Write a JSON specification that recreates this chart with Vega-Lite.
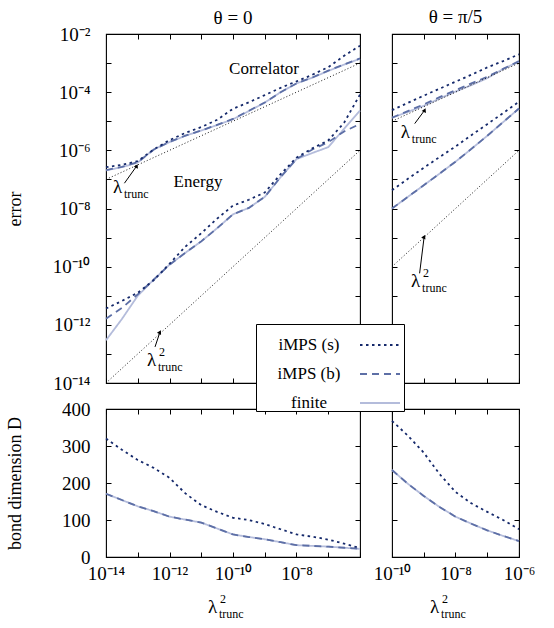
{
"$schema": "https://vega.github.io/schema/vega-lite/v6.json",
"padding": {"left": 5, "top": 6, "right": 5, "bottom": 5},
"config": {
 "font": "Liberation Serif",
 "view": {"stroke": "#000", "strokeWidth": 1.1},
 "axis": {"domain": false, "grid": false, "tickSize": -5, "tickColor": "#000", "tickWidth": 1, "labelFont": "Liberation Serif", "labelFontSize": 19, "labelColor": "#000", "labelPadding": 21, "labelOverlap": false, "labelFlush": false, "labelBound": false, "titleFont": "Liberation Serif", "titleFontSize": 18, "titleFontWeight": "normal", "titleColor": "#000"},
 "axisX": {"labelPadding": 12},
 "title": {"font": "Liberation Serif", "fontSize": 19, "fontWeight": "normal", "color": "#000", "frame": "group"},
 "legend": {"symbolType": "stroke", "symbolSize": 1600, "symbolStrokeWidth": 1.8, "labelFont": "Liberation Serif", "labelFontSize": 17, "labelColor": "#000", "rowPadding": -20, "padding": 0, "strokeColor": "#000", "fillColor": "#fff", "labelAlign": "center", "labelOffset": -92, "symbolOffset": 103}
},
"datasets": {
 "errL": [
  {"method":"finite","obs":"C","lam2":1e-14,"err":2.04e-7},{"method":"finite","obs":"C","lam2":3.16e-14,"err":2.63e-7},{"method":"finite","obs":"C","lam2":1e-13,"err":3.8e-7},{"method":"finite","obs":"C","lam2":3.16e-13,"err":1.07e-6},{"method":"finite","obs":"C","lam2":1e-12,"err":1.91e-6},{"method":"finite","obs":"C","lam2":3.16e-12,"err":3.16e-6},{"method":"finite","obs":"C","lam2":1e-11,"err":4.79e-6},{"method":"finite","obs":"C","lam2":3.16e-11,"err":7.41e-6},{"method":"finite","obs":"C","lam2":1e-10,"err":1.17e-5},{"method":"finite","obs":"C","lam2":3.16e-10,"err":2.24e-5},{"method":"finite","obs":"C","lam2":1e-9,"err":4.37e-5},{"method":"finite","obs":"C","lam2":3.16e-9,"err":1.0e-4},{"method":"finite","obs":"C","lam2":1e-8,"err":2.0e-4},{"method":"finite","obs":"C","lam2":3.16e-8,"err":3.16e-4},{"method":"finite","obs":"C","lam2":1e-7,"err":5.37e-4},{"method":"finite","obs":"C","lam2":3.16e-7,"err":8.91e-4},{"method":"finite","obs":"C","lam2":1e-6,"err":1.41e-3},
  {"method":"finite","obs":"E","lam2":1e-14,"err":2.95e-13},{"method":"finite","obs":"E","lam2":3.16e-14,"err":1.58e-12},{"method":"finite","obs":"E","lam2":1e-13,"err":1.0e-11},{"method":"finite","obs":"E","lam2":3.16e-13,"err":3.55e-11},{"method":"finite","obs":"E","lam2":1e-12,"err":1.17e-10},{"method":"finite","obs":"E","lam2":3.16e-12,"err":3.0e-10},{"method":"finite","obs":"E","lam2":1e-11,"err":7.4e-10},{"method":"finite","obs":"E","lam2":3.16e-11,"err":2.1e-9},{"method":"finite","obs":"E","lam2":1e-10,"err":6.3e-9},{"method":"finite","obs":"E","lam2":3.16e-10,"err":1.05e-8},{"method":"finite","obs":"E","lam2":1e-9,"err":2.51e-8},{"method":"finite","obs":"E","lam2":3.16e-9,"err":1.2e-7},{"method":"finite","obs":"E","lam2":1e-8,"err":5.0e-7},{"method":"finite","obs":"E","lam2":3.16e-8,"err":8.1e-7},{"method":"finite","obs":"E","lam2":1e-7,"err":1.29e-6},{"method":"finite","obs":"E","lam2":3.16e-7,"err":5.5e-6},{"method":"finite","obs":"E","lam2":1e-6,"err":2.34e-5},
  {"method":"iMPS (b)","obs":"C","lam2":1e-14,"err":2.1e-7},{"method":"iMPS (b)","obs":"C","lam2":3.16e-14,"err":2.7e-7},{"method":"iMPS (b)","obs":"C","lam2":1e-13,"err":3.9e-7},{"method":"iMPS (b)","obs":"C","lam2":3.16e-13,"err":1.05e-6},{"method":"iMPS (b)","obs":"C","lam2":1e-12,"err":1.95e-6},{"method":"iMPS (b)","obs":"C","lam2":3.16e-12,"err":3.2e-6},{"method":"iMPS (b)","obs":"C","lam2":1e-11,"err":4.8e-6},{"method":"iMPS (b)","obs":"C","lam2":3.16e-11,"err":7.5e-6},{"method":"iMPS (b)","obs":"C","lam2":1e-10,"err":1.2e-5},{"method":"iMPS (b)","obs":"C","lam2":3.16e-10,"err":2.3e-5},{"method":"iMPS (b)","obs":"C","lam2":1e-9,"err":4.4e-5},{"method":"iMPS (b)","obs":"C","lam2":3.16e-9,"err":1.0e-4},{"method":"iMPS (b)","obs":"C","lam2":1e-8,"err":2.0e-4},{"method":"iMPS (b)","obs":"C","lam2":3.16e-8,"err":3.2e-4},{"method":"iMPS (b)","obs":"C","lam2":1e-7,"err":5.5e-4},{"method":"iMPS (b)","obs":"C","lam2":3.16e-7,"err":9.0e-4},{"method":"iMPS (b)","obs":"C","lam2":1e-6,"err":1.45e-3},
  {"method":"iMPS (b)","obs":"E","lam2":1e-14,"err":1.62e-12},{"method":"iMPS (b)","obs":"E","lam2":3.16e-14,"err":3.8e-12},{"method":"iMPS (b)","obs":"E","lam2":1e-13,"err":1.12e-11},{"method":"iMPS (b)","obs":"E","lam2":3.16e-13,"err":3.55e-11},{"method":"iMPS (b)","obs":"E","lam2":1e-12,"err":1.17e-10},{"method":"iMPS (b)","obs":"E","lam2":3.16e-12,"err":3.0e-10},{"method":"iMPS (b)","obs":"E","lam2":1e-11,"err":7.4e-10},{"method":"iMPS (b)","obs":"E","lam2":3.16e-11,"err":2.1e-9},{"method":"iMPS (b)","obs":"E","lam2":1e-10,"err":6.3e-9},{"method":"iMPS (b)","obs":"E","lam2":3.16e-10,"err":1.05e-8},{"method":"iMPS (b)","obs":"E","lam2":1e-9,"err":2.51e-8},{"method":"iMPS (b)","obs":"E","lam2":3.16e-9,"err":1.2e-7},{"method":"iMPS (b)","obs":"E","lam2":1e-8,"err":5.0e-7},{"method":"iMPS (b)","obs":"E","lam2":3.16e-8,"err":1.07e-6},{"method":"iMPS (b)","obs":"E","lam2":1e-7,"err":1.9e-6},{"method":"iMPS (b)","obs":"E","lam2":3.16e-7,"err":4.47e-6},{"method":"iMPS (b)","obs":"E","lam2":1e-6,"err":8.1e-6},
  {"method":"iMPS (s)","obs":"C","lam2":1e-14,"err":2.63e-7},{"method":"iMPS (s)","obs":"C","lam2":3.16e-14,"err":3.16e-7},{"method":"iMPS (s)","obs":"C","lam2":1e-13,"err":4.27e-7},{"method":"iMPS (s)","obs":"C","lam2":3.16e-13,"err":1.07e-6},{"method":"iMPS (s)","obs":"C","lam2":1e-12,"err":2.24e-6},{"method":"iMPS (s)","obs":"C","lam2":3.16e-12,"err":3.98e-6},{"method":"iMPS (s)","obs":"C","lam2":1e-11,"err":6.31e-6},{"method":"iMPS (s)","obs":"C","lam2":3.16e-11,"err":1.12e-5},{"method":"iMPS (s)","obs":"C","lam2":1e-10,"err":2.69e-5},{"method":"iMPS (s)","obs":"C","lam2":3.16e-10,"err":4.47e-5},{"method":"iMPS (s)","obs":"C","lam2":1e-9,"err":7.94e-5},{"method":"iMPS (s)","obs":"C","lam2":3.16e-9,"err":1.41e-4},{"method":"iMPS (s)","obs":"C","lam2":1e-8,"err":2.34e-4},{"method":"iMPS (s)","obs":"C","lam2":3.16e-8,"err":3.98e-4},{"method":"iMPS (s)","obs":"C","lam2":1e-7,"err":7.24e-4},{"method":"iMPS (s)","obs":"C","lam2":3.16e-7,"err":1.78e-3},{"method":"iMPS (s)","obs":"C","lam2":1e-6,"err":3.98e-3},
  {"method":"iMPS (s)","obs":"E","lam2":1e-14,"err":3.63e-12},{"method":"iMPS (s)","obs":"E","lam2":3.16e-14,"err":6.6e-12},{"method":"iMPS (s)","obs":"E","lam2":1e-13,"err":1.26e-11},{"method":"iMPS (s)","obs":"E","lam2":3.16e-13,"err":3.39e-11},{"method":"iMPS (s)","obs":"E","lam2":1e-12,"err":1.26e-10},{"method":"iMPS (s)","obs":"E","lam2":3.16e-12,"err":4.9e-10},{"method":"iMPS (s)","obs":"E","lam2":1e-11,"err":1.41e-9},{"method":"iMPS (s)","obs":"E","lam2":3.16e-11,"err":4.47e-9},{"method":"iMPS (s)","obs":"E","lam2":1e-10,"err":1.26e-8},{"method":"iMPS (s)","obs":"E","lam2":3.16e-10,"err":2.0e-8},{"method":"iMPS (s)","obs":"E","lam2":1e-9,"err":3.55e-8},{"method":"iMPS (s)","obs":"E","lam2":3.16e-9,"err":1.51e-7},{"method":"iMPS (s)","obs":"E","lam2":1e-8,"err":5.62e-7},{"method":"iMPS (s)","obs":"E","lam2":3.16e-8,"err":1.17e-6},{"method":"iMPS (s)","obs":"E","lam2":1e-7,"err":2.19e-6},{"method":"iMPS (s)","obs":"E","lam2":3.16e-7,"err":8.9e-6},{"method":"iMPS (s)","obs":"E","lam2":1e-6,"err":8.3e-5}
 ],
 "errR": [
  {"method":"finite","obs":"C","lam2":1e-10,"err":1.32e-5},{"method":"finite","obs":"C","lam2":3.16e-10,"err":2.09e-5},{"method":"finite","obs":"C","lam2":1e-9,"err":3.39e-5},{"method":"finite","obs":"C","lam2":3.16e-9,"err":6.03e-5},{"method":"finite","obs":"C","lam2":1e-8,"err":1.05e-4},{"method":"finite","obs":"C","lam2":3.16e-8,"err":1.74e-4},{"method":"finite","obs":"C","lam2":1e-7,"err":3.02e-4},{"method":"finite","obs":"C","lam2":3.16e-7,"err":6.31e-4},{"method":"finite","obs":"C","lam2":1e-6,"err":1.12e-3},
  {"method":"finite","obs":"E","lam2":1e-10,"err":1.0e-8},{"method":"finite","obs":"E","lam2":3.16e-10,"err":2.51e-8},{"method":"finite","obs":"E","lam2":1e-9,"err":6.31e-8},{"method":"finite","obs":"E","lam2":3.16e-9,"err":1.58e-7},{"method":"finite","obs":"E","lam2":1e-8,"err":4.07e-7},{"method":"finite","obs":"E","lam2":3.16e-8,"err":1.12e-6},{"method":"finite","obs":"E","lam2":1e-7,"err":3.16e-6},{"method":"finite","obs":"E","lam2":3.16e-7,"err":9.33e-6},{"method":"finite","obs":"E","lam2":1e-6,"err":2.75e-5},
  {"method":"iMPS (b)","obs":"C","lam2":1e-10,"err":1.32e-5},{"method":"iMPS (b)","obs":"C","lam2":3.16e-10,"err":2.24e-5},{"method":"iMPS (b)","obs":"C","lam2":1e-9,"err":3.8e-5},{"method":"iMPS (b)","obs":"C","lam2":3.16e-9,"err":6.76e-5},{"method":"iMPS (b)","obs":"C","lam2":1e-8,"err":1.17e-4},{"method":"iMPS (b)","obs":"C","lam2":3.16e-8,"err":2.0e-4},{"method":"iMPS (b)","obs":"C","lam2":1e-7,"err":3.39e-4},{"method":"iMPS (b)","obs":"C","lam2":3.16e-7,"err":6.31e-4},{"method":"iMPS (b)","obs":"C","lam2":1e-6,"err":1.17e-3},
  {"method":"iMPS (b)","obs":"E","lam2":1e-10,"err":1.0e-8},{"method":"iMPS (b)","obs":"E","lam2":3.16e-10,"err":2.51e-8},{"method":"iMPS (b)","obs":"E","lam2":1e-9,"err":6.31e-8},{"method":"iMPS (b)","obs":"E","lam2":3.16e-9,"err":1.58e-7},{"method":"iMPS (b)","obs":"E","lam2":1e-8,"err":4.07e-7},{"method":"iMPS (b)","obs":"E","lam2":3.16e-8,"err":1.12e-6},{"method":"iMPS (b)","obs":"E","lam2":1e-7,"err":3.16e-6},{"method":"iMPS (b)","obs":"E","lam2":3.16e-7,"err":9.33e-6},{"method":"iMPS (b)","obs":"E","lam2":1e-6,"err":2.75e-5},
  {"method":"iMPS (s)","obs":"C","lam2":1e-10,"err":2.4e-5},{"method":"iMPS (s)","obs":"C","lam2":3.16e-10,"err":4.27e-5},{"method":"iMPS (s)","obs":"C","lam2":1e-9,"err":7.59e-5},{"method":"iMPS (s)","obs":"C","lam2":3.16e-9,"err":1.32e-4},{"method":"iMPS (s)","obs":"C","lam2":1e-8,"err":2.29e-4},{"method":"iMPS (s)","obs":"C","lam2":3.16e-8,"err":3.98e-4},{"method":"iMPS (s)","obs":"C","lam2":1e-7,"err":7.08e-4},{"method":"iMPS (s)","obs":"C","lam2":3.16e-7,"err":1.17e-3},{"method":"iMPS (s)","obs":"C","lam2":1e-6,"err":2.0e-3},
  {"method":"iMPS (s)","obs":"E","lam2":1e-10,"err":4.27e-8},{"method":"iMPS (s)","obs":"E","lam2":3.16e-10,"err":1.05e-7},{"method":"iMPS (s)","obs":"E","lam2":1e-9,"err":2.51e-7},{"method":"iMPS (s)","obs":"E","lam2":3.16e-9,"err":5.89e-7},{"method":"iMPS (s)","obs":"E","lam2":1e-8,"err":1.35e-6},{"method":"iMPS (s)","obs":"E","lam2":3.16e-8,"err":3.31e-6},{"method":"iMPS (s)","obs":"E","lam2":1e-7,"err":7.94e-6},{"method":"iMPS (s)","obs":"E","lam2":3.16e-7,"err":1.91e-5},{"method":"iMPS (s)","obs":"E","lam2":1e-6,"err":4.68e-5}
 ],
 "dimL": [
  {"method":"finite","lam2":1e-14,"D":171},{"method":"finite","lam2":3.16e-14,"D":154},{"method":"finite","lam2":1e-13,"D":137},{"method":"finite","lam2":3.16e-13,"D":124},{"method":"finite","lam2":1e-12,"D":109},{"method":"finite","lam2":3.16e-12,"D":101},{"method":"finite","lam2":1e-11,"D":93},{"method":"finite","lam2":3.16e-11,"D":77},{"method":"finite","lam2":1e-10,"D":61},{"method":"finite","lam2":3.16e-10,"D":54},{"method":"finite","lam2":1e-9,"D":48},{"method":"finite","lam2":3.16e-9,"D":40},{"method":"finite","lam2":1e-8,"D":32},{"method":"finite","lam2":3.16e-8,"D":30},{"method":"finite","lam2":1e-7,"D":28},{"method":"finite","lam2":3.16e-7,"D":25},{"method":"finite","lam2":1e-6,"D":22},
  {"method":"iMPS (b)","lam2":1e-14,"D":171},{"method":"iMPS (b)","lam2":3.16e-14,"D":154},{"method":"iMPS (b)","lam2":1e-13,"D":137},{"method":"iMPS (b)","lam2":3.16e-13,"D":124},{"method":"iMPS (b)","lam2":1e-12,"D":109},{"method":"iMPS (b)","lam2":3.16e-12,"D":101},{"method":"iMPS (b)","lam2":1e-11,"D":93},{"method":"iMPS (b)","lam2":3.16e-11,"D":77},{"method":"iMPS (b)","lam2":1e-10,"D":61},{"method":"iMPS (b)","lam2":3.16e-10,"D":54},{"method":"iMPS (b)","lam2":1e-9,"D":48},{"method":"iMPS (b)","lam2":3.16e-9,"D":40},{"method":"iMPS (b)","lam2":1e-8,"D":32},{"method":"iMPS (b)","lam2":3.16e-8,"D":30},{"method":"iMPS (b)","lam2":1e-7,"D":28},{"method":"iMPS (b)","lam2":3.16e-7,"D":25},{"method":"iMPS (b)","lam2":1e-6,"D":22},
  {"method":"iMPS (s)","lam2":1e-14,"D":320},{"method":"iMPS (s)","lam2":3.16e-14,"D":290},{"method":"iMPS (s)","lam2":1e-13,"D":262},{"method":"iMPS (s)","lam2":3.16e-13,"D":241},{"method":"iMPS (s)","lam2":1e-12,"D":214},{"method":"iMPS (s)","lam2":3.16e-12,"D":172},{"method":"iMPS (s)","lam2":1e-11,"D":140},{"method":"iMPS (s)","lam2":3.16e-11,"D":122},{"method":"iMPS (s)","lam2":1e-10,"D":106},{"method":"iMPS (s)","lam2":3.16e-10,"D":100},{"method":"iMPS (s)","lam2":1e-9,"D":89},{"method":"iMPS (s)","lam2":3.16e-9,"D":75},{"method":"iMPS (s)","lam2":1e-8,"D":61},{"method":"iMPS (s)","lam2":3.16e-8,"D":55},{"method":"iMPS (s)","lam2":1e-7,"D":47},{"method":"iMPS (s)","lam2":3.16e-7,"D":36},{"method":"iMPS (s)","lam2":1e-6,"D":24}
 ],
 "dimR": [
  {"method":"finite","lam2":1e-10,"D":235},{"method":"finite","lam2":3.16e-10,"D":198},{"method":"finite","lam2":1e-9,"D":165},{"method":"finite","lam2":3.16e-9,"D":135},{"method":"finite","lam2":1e-8,"D":109},{"method":"finite","lam2":3.16e-8,"D":90},{"method":"finite","lam2":1e-7,"D":72},{"method":"finite","lam2":3.16e-7,"D":57},{"method":"finite","lam2":1e-6,"D":43},
  {"method":"iMPS (b)","lam2":1e-10,"D":235},{"method":"iMPS (b)","lam2":3.16e-10,"D":198},{"method":"iMPS (b)","lam2":1e-9,"D":165},{"method":"iMPS (b)","lam2":3.16e-9,"D":135},{"method":"iMPS (b)","lam2":1e-8,"D":109},{"method":"iMPS (b)","lam2":3.16e-8,"D":90},{"method":"iMPS (b)","lam2":1e-7,"D":72},{"method":"iMPS (b)","lam2":3.16e-7,"D":57},{"method":"iMPS (b)","lam2":1e-6,"D":43},
  {"method":"iMPS (s)","lam2":1e-10,"D":368},{"method":"iMPS (s)","lam2":3.16e-10,"D":328},{"method":"iMPS (s)","lam2":1e-9,"D":282},{"method":"iMPS (s)","lam2":3.16e-9,"D":224},{"method":"iMPS (s)","lam2":1e-8,"D":176},{"method":"iMPS (s)","lam2":3.16e-8,"D":145},{"method":"iMPS (s)","lam2":1e-7,"D":122},{"method":"iMPS (s)","lam2":3.16e-7,"D":100},{"method":"iMPS (s)","lam2":1e-6,"D":75}
 ],
 "refL": [{"kind":"lam","lam2":1e-14,"err":1e-7},{"kind":"lam","lam2":1e-6,"err":1e-3},{"kind":"lam2","lam2":1e-14,"err":1e-14},{"kind":"lam2","lam2":1e-6,"err":1e-6}],
 "refR": [{"kind":"lam","lam2":1e-10,"err":1e-5},{"kind":"lam","lam2":1e-6,"err":1e-3},{"kind":"lam2","lam2":1e-10,"err":1e-10},{"kind":"lam2","lam2":1e-6,"err":1e-6}],
 "arrTL": [{"lam2":3.8e-14,"err":7.4e-8,"lam2b":9.3e-14,"errb":2.9e-7},{"lam2":3.5e-13,"err":1.74e-13,"lam2b":5.0e-13,"errb":5.6e-13}],
 "arrTR": [{"lam2":5.2e-10,"err":8.3e-6,"lam2b":1.07e-9,"errb":2.4e-5},{"lam2":7.4e-10,"err":5.9e-11,"lam2b":1.03e-9,"errb":1.07e-9}],
 "annTL": [
  {"part":"plain","t":"Correlator","lam2":9.5e-10,"err":6.5e-4},
  {"part":"plain","t":"Energy","lam2":7.9e-12,"err":7.9e-8},
  {"part":"main","t":"λ","lam2":1.66e-14,"err":3.5e-8},
  {"part":"sub","t":"trunc","lam2":1.66e-14,"err":3.5e-8},
  {"part":"main","t":"λ","lam2":1.95e-13,"err":3.7e-14},
  {"part":"sup","t":"2","lam2":1.95e-13,"err":3.7e-14},
  {"part":"sub","t":"trunc","lam2":1.95e-13,"err":3.7e-14}
 ],
 "annTR": [
  {"part":"main","t":"λ","lam2":1.9e-10,"err":2.75e-6},
  {"part":"sub","t":"trunc","lam2":1.9e-10,"err":2.75e-6},
  {"part":"main","t":"λ","lam2":4.0e-10,"err":1.95e-11},
  {"part":"sup","t":"2","lam2":4.0e-10,"err":1.95e-11},
  {"part":"sub","t":"trunc","lam2":4.0e-10,"err":1.95e-11}
 ],
 "annBL": [
  {"part":"main","t":"λ","lam2":1.62e-11,"D":-151},
  {"part":"sup","t":"2","lam2":1.62e-11,"D":-151},
  {"part":"sub","t":"trunc","lam2":1.62e-11,"D":-151}
 ],
 "annBR": [
  {"part":"main","t":"λ","lam2":1.58e-9,"D":-151},
  {"part":"sup","t":"2","lam2":1.58e-9,"D":-151},
  {"part":"sub","t":"trunc","lam2":1.58e-9,"D":-151}
 ]
},
"spacing": {"row": 26, "column": 32},
"bounds": "flush",
"columns": 2,
"concat": [
  {"width": 254, "height": 349, "title": {"text": "θ = 0", "offset": -3},
   "layer": [
    {"data": {"name": "errL"}, "mark": {"type": "line", "strokeWidth": 1.8},
     "encoding": {
      "x": {"field": "lam2", "type": "quantitative", "scale": {"type": "log", "domain": [1e-14, 1e-6], "nice": false}, "axis": {"orient": "bottom", "values": [1e-14,1e-13,1e-12,1e-11,1e-10,1e-9,1e-8,1e-7,1e-6], "labels": false, "title": null}},
      "y": {"field": "err", "type": "quantitative", "scale": {"type": "log", "domain": [1e-14, 1e-2], "nice": false}, "axis": {"orient": "left", "values": [1e-14,1e-13,1e-12,1e-11,1e-10,1e-9,1e-8,1e-7,1e-6,1e-5,1e-4,1e-3,1e-2], "title": "error", "titlePadding": 28, "labelExpr": "round(log(datum.value)/LN10)==-14?'10⁻¹⁴':round(log(datum.value)/LN10)==-12?'10⁻¹²':round(log(datum.value)/LN10)==-10?'10⁻¹⁰':round(log(datum.value)/LN10)==-8?'10⁻⁸':round(log(datum.value)/LN10)==-6?'10⁻⁶':round(log(datum.value)/LN10)==-4?'10⁻⁴':round(log(datum.value)/LN10)==-2?'10⁻²':''"}},
      "color": {"field": "method", "type": "nominal", "scale": {"domain": ["iMPS (s)", "iMPS (b)", "finite"], "range": ["#15296b", "#5d6fa6", "#b4bcdb"]}, "legend": {"title": null, "orient": "none", "legendX": 150, "legendY": 290, "zindex": 1}},
      "strokeDash": {"field": "method", "type": "nominal", "scale": {"domain": ["iMPS (s)", "iMPS (b)", "finite"], "range": [[2.5, 3.5], [7, 5], [1, 0]]}, "legend": {"title": null, "orient": "none", "legendX": 150, "legendY": 290, "zindex": 1}},
      "detail": {"field": "obs"}
     }},
    {"data": {"name": "refL"}, "mark": {"type": "line", "color": "#000", "strokeWidth": 0.9, "strokeDash": [1, 2.2]},
     "encoding": {
      "x": {"field": "lam2", "type": "quantitative", "scale": {"type": "log", "domain": [1e-14, 1e-6], "nice": false}, "axis": {"orient": "top", "values": [1e-14,1e-13,1e-12,1e-11,1e-10,1e-9,1e-8,1e-7,1e-6], "labels": false, "title": null}},
      "y": {"field": "err", "type": "quantitative", "scale": {"type": "log", "domain": [1e-14, 1e-2], "nice": false}, "axis": {"orient": "right", "values": [1e-14,1e-13,1e-12,1e-11,1e-10,1e-9,1e-8,1e-7,1e-6,1e-5,1e-4,1e-3,1e-2], "labels": false, "title": null}},
      "detail": {"field": "kind"}
     }},
    {"data": {"name": "arrTL"}, "mark": {"type": "rule", "color": "#000", "strokeWidth": 1},
     "encoding": {
      "x": {"field": "lam2", "type": "quantitative", "scale": {"type": "log"}, "axis": null},
      "y": {"field": "err", "type": "quantitative", "scale": {"type": "log"}, "axis": null},
      "x2": {"field": "lam2b"}, "y2": {"field": "errb"}
     }},
    {"data": {"name": "arrTL"}, "mark": {"type": "point", "shape": "triangle-up", "filled": true, "color": "#000", "size": 22, "angle": 28, "opacity": 1},
     "encoding": {
      "x": {"field": "lam2b", "type": "quantitative", "scale": {"type": "log"}, "axis": null},
      "y": {"field": "errb", "type": "quantitative", "scale": {"type": "log"}, "axis": null}
     }},
    {"data": {"name": "annTL"}, "transform": [{"filter": "datum.part == 'plain'"}], "mark": {"type": "text", "fontSize": 17, "align": "center", "baseline": "middle", "color": "#000"},
     "encoding": {"x": {"field": "lam2", "type": "quantitative", "scale": {"type": "log"}, "axis": null}, "y": {"field": "err", "type": "quantitative", "scale": {"type": "log"}, "axis": null}, "text": {"field": "t"}}},
    {"data": {"name": "annTL"}, "transform": [{"filter": "datum.part == 'main'"}], "mark": {"type": "text", "fontSize": 19, "align": "left", "baseline": "alphabetic", "color": "#000"},
     "encoding": {"x": {"field": "lam2", "type": "quantitative", "scale": {"type": "log"}, "axis": null}, "y": {"field": "err", "type": "quantitative", "scale": {"type": "log"}, "axis": null}, "text": {"field": "t"}}},
    {"data": {"name": "annTL"}, "transform": [{"filter": "datum.part == 'sub'"}], "mark": {"type": "text", "fontSize": 12, "align": "left", "baseline": "alphabetic", "dx": 11, "dy": 5, "color": "#000"},
     "encoding": {"x": {"field": "lam2", "type": "quantitative", "scale": {"type": "log"}, "axis": null}, "y": {"field": "err", "type": "quantitative", "scale": {"type": "log"}, "axis": null}, "text": {"field": "t"}}},
    {"data": {"name": "annTL"}, "transform": [{"filter": "datum.part == 'sup'"}], "mark": {"type": "text", "fontSize": 12, "align": "left", "baseline": "alphabetic", "dx": 12, "dy": -10, "color": "#000"},
     "encoding": {"x": {"field": "lam2", "type": "quantitative", "scale": {"type": "log"}, "axis": null}, "y": {"field": "err", "type": "quantitative", "scale": {"type": "log"}, "axis": null}, "text": {"field": "t"}}}
   ],
   "resolve": {"axis": {"x": "independent", "y": "independent"}}
  },
  {"width": 127, "height": 349, "title": {"text": "θ = π/5", "offset": 7},
   "layer": [
    {"data": {"name": "errR"}, "mark": {"type": "line", "strokeWidth": 1.8},
     "encoding": {
      "x": {"field": "lam2", "type": "quantitative", "scale": {"type": "log", "domain": [1e-10, 1e-6], "nice": false}, "axis": {"orient": "bottom", "values": [1e-10,1e-9,1e-8,1e-7,1e-6], "labels": false, "title": null}},
      "y": {"field": "err", "type": "quantitative", "scale": {"type": "log", "domain": [1e-14, 1e-2], "nice": false}, "axis": {"orient": "left", "values": [1e-14,1e-13,1e-12,1e-11,1e-10,1e-9,1e-8,1e-7,1e-6,1e-5,1e-4,1e-3,1e-2], "labels": false, "title": null}},
      "color": {"field": "method", "type": "nominal", "scale": {"domain": ["iMPS (s)", "iMPS (b)", "finite"], "range": ["#15296b", "#5d6fa6", "#b4bcdb"]}, "legend": {"title": null, "orient": "none", "legendX": 150, "legendY": 290, "zindex": 1}},
      "strokeDash": {"field": "method", "type": "nominal", "scale": {"domain": ["iMPS (s)", "iMPS (b)", "finite"], "range": [[2.5, 3.5], [7, 5], [1, 0]]}, "legend": {"title": null, "orient": "none", "legendX": 150, "legendY": 290, "zindex": 1}},
      "detail": {"field": "obs"}
     }},
    {"data": {"name": "refR"}, "mark": {"type": "line", "color": "#000", "strokeWidth": 0.9, "strokeDash": [1, 2.2]},
     "encoding": {
      "x": {"field": "lam2", "type": "quantitative", "scale": {"type": "log", "domain": [1e-10, 1e-6], "nice": false}, "axis": {"orient": "top", "values": [1e-10,1e-9,1e-8,1e-7,1e-6], "labels": false, "title": null}},
      "y": {"field": "err", "type": "quantitative", "scale": {"type": "log", "domain": [1e-14, 1e-2], "nice": false}, "axis": {"orient": "right", "values": [1e-14,1e-13,1e-12,1e-11,1e-10,1e-9,1e-8,1e-7,1e-6,1e-5,1e-4,1e-3,1e-2], "labels": false, "title": null}},
      "detail": {"field": "kind"}
     }},
    {"data": {"name": "arrTR"}, "mark": {"type": "rule", "color": "#000", "strokeWidth": 1},
     "encoding": {
      "x": {"field": "lam2", "type": "quantitative", "scale": {"type": "log"}, "axis": null},
      "y": {"field": "err", "type": "quantitative", "scale": {"type": "log"}, "axis": null},
      "x2": {"field": "lam2b"}, "y2": {"field": "errb"}
     }},
    {"data": {"name": "arrTR"}, "mark": {"type": "point", "shape": "triangle-up", "filled": true, "color": "#000", "size": 22, "angle": 25, "opacity": 1},
     "encoding": {
      "x": {"field": "lam2b", "type": "quantitative", "scale": {"type": "log"}, "axis": null},
      "y": {"field": "errb", "type": "quantitative", "scale": {"type": "log"}, "axis": null}
     }},
    {"data": {"name": "annTR"}, "transform": [{"filter": "datum.part == 'main'"}], "mark": {"type": "text", "fontSize": 19, "align": "left", "baseline": "alphabetic", "color": "#000"},
     "encoding": {"x": {"field": "lam2", "type": "quantitative", "scale": {"type": "log"}, "axis": null}, "y": {"field": "err", "type": "quantitative", "scale": {"type": "log"}, "axis": null}, "text": {"field": "t"}}},
    {"data": {"name": "annTR"}, "transform": [{"filter": "datum.part == 'sub'"}], "mark": {"type": "text", "fontSize": 12, "align": "left", "baseline": "alphabetic", "dx": 11, "dy": 5, "color": "#000"},
     "encoding": {"x": {"field": "lam2", "type": "quantitative", "scale": {"type": "log"}, "axis": null}, "y": {"field": "err", "type": "quantitative", "scale": {"type": "log"}, "axis": null}, "text": {"field": "t"}}},
    {"data": {"name": "annTR"}, "transform": [{"filter": "datum.part == 'sup'"}], "mark": {"type": "text", "fontSize": 12, "align": "left", "baseline": "alphabetic", "dx": 12, "dy": -10, "color": "#000"},
     "encoding": {"x": {"field": "lam2", "type": "quantitative", "scale": {"type": "log"}, "axis": null}, "y": {"field": "err", "type": "quantitative", "scale": {"type": "log"}, "axis": null}, "text": {"field": "t"}}}
   ],
   "resolve": {"axis": {"x": "independent", "y": "independent"}}
  },
  {"width": 254, "height": 148,
   "layer": [
    {"data": {"name": "dimL"}, "mark": {"type": "line", "strokeWidth": 1.8},
     "encoding": {
      "x": {"field": "lam2", "type": "quantitative", "scale": {"type": "log", "domain": [1e-14, 1e-6], "nice": false}, "axis": {"orient": "bottom", "values": [1e-14,1e-13,1e-12,1e-11,1e-10,1e-9,1e-8,1e-7,1e-6], "title": null, "labelExpr": "round(log(datum.value)/LN10)==-14?'10⁻¹⁴':round(log(datum.value)/LN10)==-12?'10⁻¹²':round(log(datum.value)/LN10)==-10?'10⁻¹⁰':round(log(datum.value)/LN10)==-8?'10⁻⁸':''"}},
      "y": {"field": "D", "type": "quantitative", "scale": {"domain": [0, 400], "nice": false}, "axis": {"orient": "left", "values": [0, 100, 200, 300, 400], "title": "bond dimension D", "titlePadding": 37}},
      "color": {"field": "method", "type": "nominal", "scale": {"domain": ["iMPS (s)", "iMPS (b)", "finite"], "range": ["#15296b", "#5d6fa6", "#b4bcdb"]}, "legend": {"title": null, "orient": "none", "legendX": 150, "legendY": 290, "zindex": 1}},
      "strokeDash": {"field": "method", "type": "nominal", "scale": {"domain": ["iMPS (s)", "iMPS (b)", "finite"], "range": [[2.5, 3.5], [7, 5], [1, 0]]}, "legend": {"title": null, "orient": "none", "legendX": 150, "legendY": 290, "zindex": 1}}
     }},
    {"data": {"name": "annBL"}, "transform": [{"filter": "datum.part == 'main'"}], "mark": {"type": "text", "fontSize": 19, "align": "left", "baseline": "alphabetic", "color": "#000"},
     "encoding": {
      "x": {"field": "lam2", "type": "quantitative", "scale": {"type": "log", "domain": [1e-14, 1e-6], "nice": false}, "axis": {"orient": "top", "values": [1e-14,1e-13,1e-12,1e-11,1e-10,1e-9,1e-8,1e-7,1e-6], "labels": false, "title": null}},
      "y": {"field": "D", "type": "quantitative", "scale": {"domain": [0, 400], "nice": false}, "axis": {"orient": "right", "values": [0, 100, 200, 300, 400], "labels": false, "title": null}},
      "text": {"field": "t"}}},
    {"data": {"name": "annBL"}, "transform": [{"filter": "datum.part == 'sub'"}], "mark": {"type": "text", "fontSize": 12, "align": "left", "baseline": "alphabetic", "dx": 11, "dy": 5, "color": "#000"},
     "encoding": {"x": {"field": "lam2", "type": "quantitative", "scale": {"type": "log"}, "axis": null}, "y": {"field": "D", "type": "quantitative", "axis": null}, "text": {"field": "t"}}},
    {"data": {"name": "annBL"}, "transform": [{"filter": "datum.part == 'sup'"}], "mark": {"type": "text", "fontSize": 12, "align": "left", "baseline": "alphabetic", "dx": 12, "dy": -10, "color": "#000"},
     "encoding": {"x": {"field": "lam2", "type": "quantitative", "scale": {"type": "log"}, "axis": null}, "y": {"field": "D", "type": "quantitative", "axis": null}, "text": {"field": "t"}}}
   ],
   "resolve": {"axis": {"x": "independent", "y": "independent"}}
  },
  {"width": 127, "height": 148,
   "layer": [
    {"data": {"name": "dimR"}, "mark": {"type": "line", "strokeWidth": 1.8},
     "encoding": {
      "x": {"field": "lam2", "type": "quantitative", "scale": {"type": "log", "domain": [1e-10, 1e-6], "nice": false}, "axis": {"orient": "bottom", "values": [1e-10,1e-9,1e-8,1e-7,1e-6], "title": null, "labelExpr": "round(log(datum.value)/LN10)==-10?'10⁻¹⁰':round(log(datum.value)/LN10)==-8?'10⁻⁸':round(log(datum.value)/LN10)==-6?'10⁻⁶':''"}},
      "y": {"field": "D", "type": "quantitative", "scale": {"domain": [0, 400], "nice": false}, "axis": {"orient": "left", "values": [0, 100, 200, 300, 400], "labels": false, "title": null}},
      "color": {"field": "method", "type": "nominal", "scale": {"domain": ["iMPS (s)", "iMPS (b)", "finite"], "range": ["#15296b", "#5d6fa6", "#b4bcdb"]}, "legend": {"title": null, "orient": "none", "legendX": 150, "legendY": 290, "zindex": 1}},
      "strokeDash": {"field": "method", "type": "nominal", "scale": {"domain": ["iMPS (s)", "iMPS (b)", "finite"], "range": [[2.5, 3.5], [7, 5], [1, 0]]}, "legend": {"title": null, "orient": "none", "legendX": 150, "legendY": 290, "zindex": 1}}
     }},
    {"data": {"name": "annBR"}, "transform": [{"filter": "datum.part == 'main'"}], "mark": {"type": "text", "fontSize": 19, "align": "left", "baseline": "alphabetic", "color": "#000"},
     "encoding": {
      "x": {"field": "lam2", "type": "quantitative", "scale": {"type": "log", "domain": [1e-10, 1e-6], "nice": false}, "axis": {"orient": "top", "values": [1e-10,1e-9,1e-8,1e-7,1e-6], "labels": false, "title": null}},
      "y": {"field": "D", "type": "quantitative", "scale": {"domain": [0, 400], "nice": false}, "axis": {"orient": "right", "values": [0, 100, 200, 300, 400], "labels": false, "title": null}},
      "text": {"field": "t"}}},
    {"data": {"name": "annBR"}, "transform": [{"filter": "datum.part == 'sub'"}], "mark": {"type": "text", "fontSize": 12, "align": "left", "baseline": "alphabetic", "dx": 11, "dy": 5, "color": "#000"},
     "encoding": {"x": {"field": "lam2", "type": "quantitative", "scale": {"type": "log"}, "axis": null}, "y": {"field": "D", "type": "quantitative", "axis": null}, "text": {"field": "t"}}},
    {"data": {"name": "annBR"}, "transform": [{"filter": "datum.part == 'sup'"}], "mark": {"type": "text", "fontSize": 12, "align": "left", "baseline": "alphabetic", "dx": 12, "dy": -10, "color": "#000"},
     "encoding": {"x": {"field": "lam2", "type": "quantitative", "scale": {"type": "log"}, "axis": null}, "y": {"field": "D", "type": "quantitative", "axis": null}, "text": {"field": "t"}}}
   ],
   "resolve": {"axis": {"x": "independent", "y": "independent"}}
  }
]
}
